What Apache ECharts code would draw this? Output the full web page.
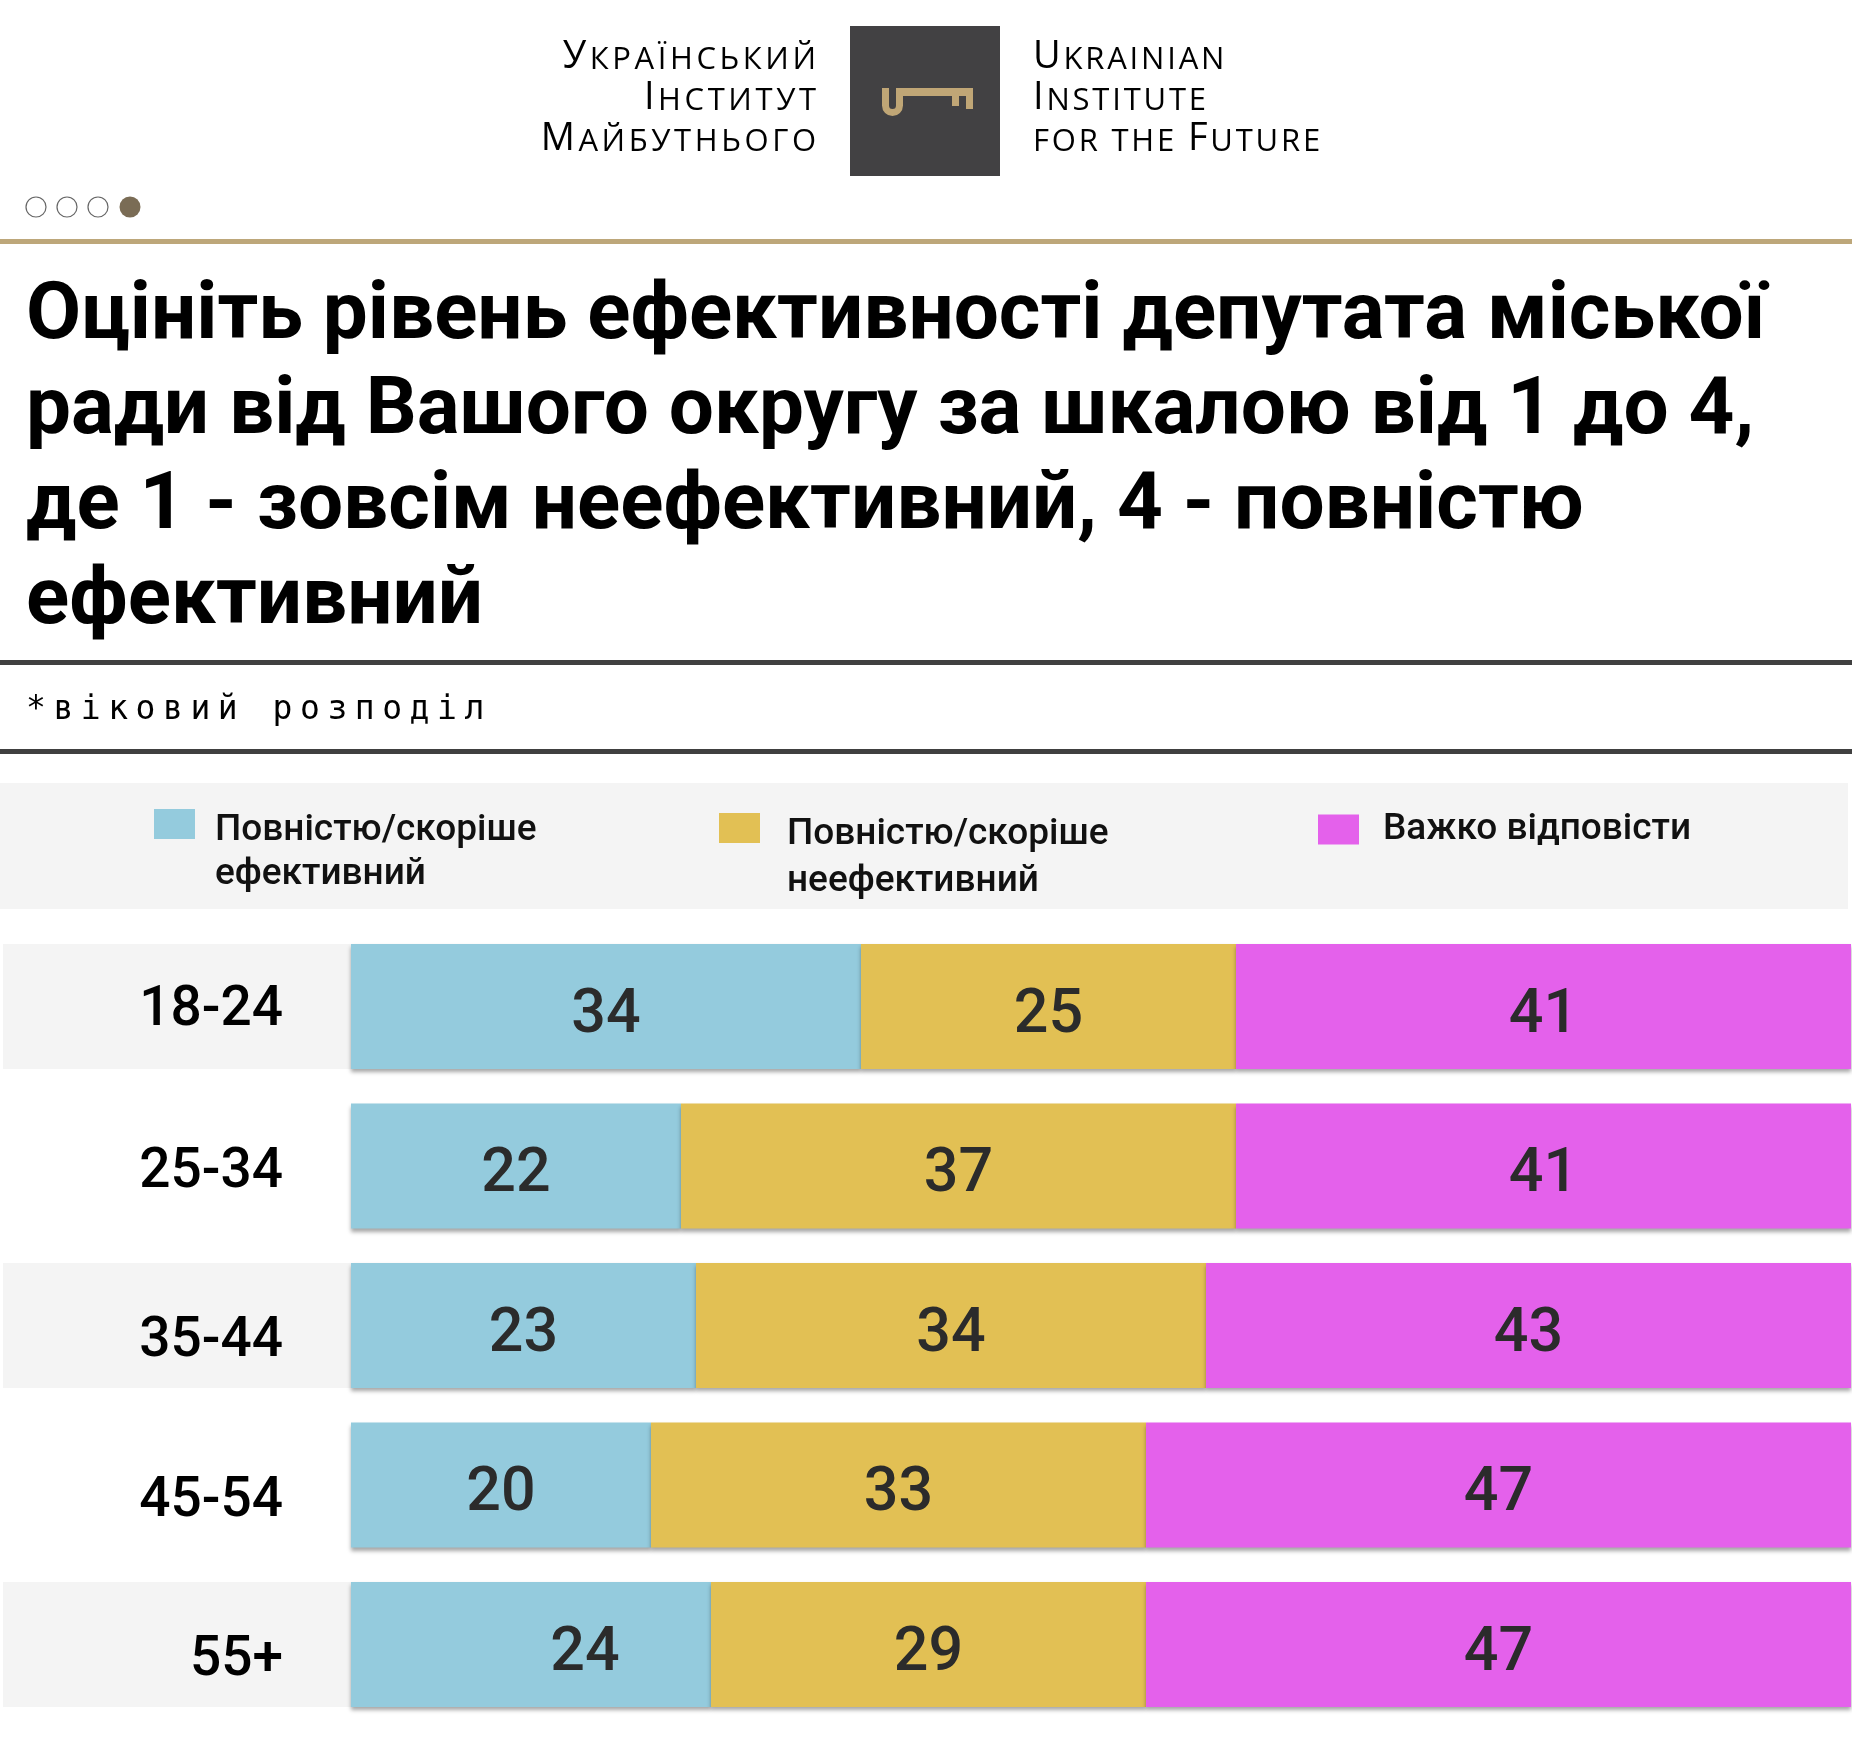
<!DOCTYPE html>
<html>
<head>
<meta charset="utf-8">
<script src="https://cdn.jsdelivr.net/npm/echarts@6/dist/echarts.min.js"></script>
<style>
html, body { margin: 0; padding: 0; background: #fff; }
#chart { width: 1852px; height: 1739px; }
</style>
</head>
<body>
<div id="chart"></div>
<script>
// дані
const ageGroups = ['18-24', '25-34', '35-44', '45-54', '55+'];
const effective = [34, 22, 23, 20, 24];
const ineffective = [25, 37, 34, 33, 29];
const hardToSay = [41, 41, 43, 47, 47];
const seriesNames = ['Повністю/скоріше\nефективний', 'Повністю/скоріше\nнеефективний', 'Важко відповісти'];
const seriesColors = ['#94cbdd', '#e2c054', '#e461eb'];

const titleText = 'Оцініть рівень ефективності депутата міської\nради від Вашого округу за шкалою від 1 до 4,\nде 1 - зовсім неефективний, 4 - повністю\nефективний';
const subtitleText = '*віковий розподіл';
const logoLeft = ['Український', 'Інститут', 'Майбутнього'];
const logoRight = ['Ukrainian', 'Institute', 'for the Future'];

const chart = echarts.init(document.getElementById('chart'));

// капітель з розрядкою: кожна літера окремим токеном з власною шириною
const mctx = document.createElement('canvas').getContext('2d');
const logoRich = {};
let tokenId = 0;
function smallCaps(line, spacing) {
    let out = '';
    for (const ch of line) {
        const big = ch !== ch.toLowerCase();
        const size = big ? 38 : 31;
        const glyph = big ? ch : ch.toUpperCase();
        mctx.font = size + 'px "Open Sans"';
        const key = (big ? 'b' : 's') + (tokenId++);
        logoRich[key] = {
            fontFamily: 'Open Sans', fontSize: size, color: '#454545', verticalAlign: 'bottom',
            width: mctx.measureText(glyph).width + spacing,
            lineHeight: big ? 41 : undefined
        };
        out += '{' + key + '|' + glyph + '}';
    }
    return out;
}
const leftLogoText = logoLeft.map(l => smallCaps(l, 3.6)).join('\n');
const rightLogoText = logoRight.map(l => smallCaps(l, 2.8)).join('\n');

const monoText = subtitleText.split('').map(c => '{m|' + c + '}').join('');

const legendLefts = [154, 719, 1318];
const legendTops = [751.5, 750.5, 807];
const legendGaps = [15, 22, 19];
const legendLineHeights = [44, 47, 45];
const legendLeads = [57, 61, 0];
const gold = '#c0a676';

// зсув підписів вікових груп (відступ зверху)
const labelPads = [10, 14, 34, 34, 34];
const axisRich = {};
labelPads.forEach((p, i) => {
    axisRich['r' + i] = {
        backgroundColor: i % 2 === 0 ? '#f4f4f4' : 'transparent',
        width: 280, height: 125 - p, padding: [p, 68, 0, 0],
        align: 'right', fontFamily: 'Roboto', fontSize: 55, fontWeight: 500, color: '#000'
    };
});

const option = {
    backgroundColor: '#fff',
    animation: false,
    title: {
        text: titleText,
        left: 26,
        top: 270,
        padding: 0,
        textStyle: {
            fontFamily: 'Roboto',
            fontWeight: 'bold',
            fontSize: 80,
            lineHeight: 95,
            color: '#000'
        }
    },
    graphic: [
        { type: 'rect', shape: { x: 850, y: 26, width: 150, height: 150 }, style: { fill: '#424143' } },
        // ключ
        { type: 'rect', shape: { x: 882, y: 88, width: 7, height: 18 }, style: { fill: gold } },
        { type: 'rect', shape: { x: 896, y: 88, width: 7, height: 18 }, style: { fill: gold } },
        { type: 'arc', shape: { cx: 892.5, cy: 105.5, r: 7, startAngle: 0, endAngle: Math.PI, clockwise: true }, style: { stroke: gold, lineWidth: 7, fill: null } },
        {
            type: 'polygon',
            shape: { points: [[896, 88], [973, 88], [973, 109], [966, 109], [966, 96], [959, 96], [959, 106], [952, 106], [952, 96], [896, 96]] },
            style: { fill: gold }
        },
        {
            type: 'text', x: 816, y: 35,
            style: { text: leftLogoText, rich: logoRich, align: 'right', verticalAlign: 'top' }
        },
        {
            type: 'text', x: 1033, y: 35,
            style: { text: rightLogoText, rich: logoRich, align: 'left', verticalAlign: 'top' }
        },
        { type: 'circle', shape: { cx: 36, cy: 207, r: 10 }, style: { fill: '#fff', stroke: '#666', lineWidth: 1.2 } },
        { type: 'circle', shape: { cx: 67, cy: 207, r: 10 }, style: { fill: '#fff', stroke: '#666', lineWidth: 1.2 } },
        { type: 'circle', shape: { cx: 98, cy: 207, r: 10 }, style: { fill: '#fff', stroke: '#666', lineWidth: 1.2 } },
        { type: 'circle', shape: { cx: 130, cy: 207, r: 10.5 }, style: { fill: '#7a6c55' } },
        { type: 'rect', shape: { x: 0, y: 239, width: 1852, height: 5 }, style: { fill: '#bda77a' } },
        { type: 'rect', shape: { x: 0, y: 660, width: 1852, height: 5 }, style: { fill: '#404040' } },
        {
            type: 'text', x: 26, y: 710,
            style: {
                text: monoText,
                verticalAlign: 'middle',
                rich: { m: { width: 27.4, fontFamily: 'DejaVu Sans Mono', fontSize: 33, color: '#000' } }
            }
        },
        { type: 'rect', shape: { x: 0, y: 749, width: 1852, height: 5 }, style: { fill: '#404040' } },
        { type: 'rect', z: -10, shape: { x: 0, y: 783, width: 1848, height: 126 }, style: { fill: '#f4f4f4' } }
    ],
    legend: seriesNames.map((name, i) => ({
        data: [name],
        left: legendLefts[i],
        top: legendTops[i],
        padding: 0,
        icon: 'rect',
        itemWidth: 41,
        itemHeight: 30,
        selectedMode: false,
        // порожній рядок зверху, щоб перший рядок стояв навпроти значка
        formatter: n => (legendLeads[i] ? '{e| }\n' + n : n),
        textStyle: {
            fontFamily: 'Roboto',
            fontSize: 37,
            fontWeight: 500,
            color: '#111',
            lineHeight: legendLineHeights[i],
            padding: [0, 0, 0, legendGaps[i]],
            rich: { e: { fontSize: 10, lineHeight: legendLeads[i] || 10 } }
        }
    })),
    grid: { left: 348, right: 1, top: 926.75, bottom: 14.75 },
    xAxis: { type: 'value', min: 0, max: 100, show: false },
    yAxis: {
        type: 'category',
        inverse: true,
        data: ageGroups,
        axisLine: { show: false },
        axisTick: { show: false },
        axisLabel: {
            margin: 0,
            formatter: (v, i) => '{r' + i + '|' + v + '}',
            rich: axisRich
        }
    },
    series: [effective, ineffective, hardToSay].map((vals, k) => ({
        name: seriesNames[k],
        type: 'bar',
        stack: 'total',
        barWidth: 125,
        data: vals.map((v, i) => (k === 0 && i === 4 ? { value: v, label: { offset: [54, 10] } } : v)),
        itemStyle: {
            color: seriesColors[k],
            shadowColor: 'rgba(0,0,0,0.35)',
            shadowBlur: 4,
            shadowOffsetY: 3
        },
        label: {
            show: true,
            position: 'inside',
            offset: [0, 10],
            fontFamily: 'Roboto',
            fontSize: 61,
            fontWeight: 500,
            color: '#2b2b2b'
        }
    }))
};

chart.setOption(option);
</script>
</body>
</html>
